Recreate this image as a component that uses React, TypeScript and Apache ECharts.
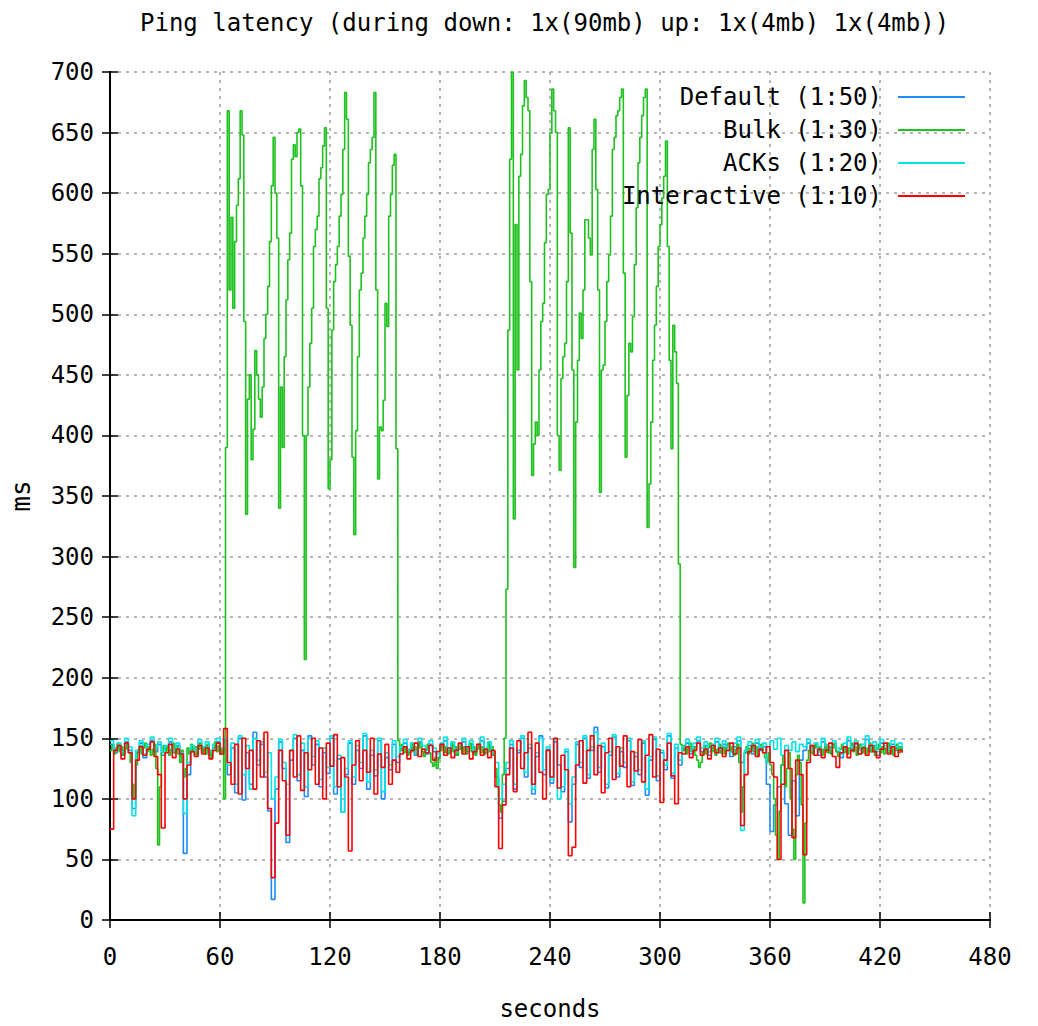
import React, { useEffect, useRef } from "react";
import * as echarts from "echarts";

// ---- Data (ms) ----
const TITLE = "Ping latency (during down: 1x(90mb) up: 1x(4mb) 1x(4mb))";
const seriesNames = ["Default (1:50)", "Bulk (1:30)", "ACKs (1:20)", "Interactive (1:10)"];
const seriesColors = ["#1e8cff", "#1ec21e", "#00e6e6", "#ff0000"];

// Default (1:50): every 2 s
const defaultA = [145,138,142,136,147,140,92,138,146,134,143,148,139,145,136,142,147,138,144,135,55,120,141,137,146,140,144,136,142,147,139]; // t 0..60
const defaultB = [148,120,142,105,150,99,138,112,155,128,145,118,90,17,108,147,125,64,132,150,115,140,102,152,128,145,110,138,121,150,104,133,89,120,146,112,140,125,152,108,136,119,148,100,134,124,145,130]; // t 62..156
const defaultC = [140,146,138,143,136,147,141,137,145,139,134,143,148,138,144,136,141,147,139,145,137,142,148,138,144,136,118,84,98]; // t 158..214
const defaultD = [125,145,108,138,150,118,142,104,135,152,120,141,113,147,128,106,139,81,112,145,126,150,117,140,159,122,143,109,136,151,118,139,126,148,111,135,120,146,103,132,149,115,138,124,152,117,142,128]; // t 216..310
const defaultE = [140,146,137,143,148,139,144,136,142,147,138,145,140,135,143,148,130,138,144,137,146,140,143,112,73,95,110,128,96,70,115,86,132,140,146,138,143,136,147,141,138,145,139,134,143,148,140,145,137,142,149,139,144,136,146,141,138,145,140,143,139]; // t 312..432

// ACKs (1:20): every 2 s
const acksA = [148,141,146,139,150,143,86,140,148,137,145,151,142,147,139,144,150,140,146,138,88,130,144,140,149,143,147,139,145,150,142];
const acksB = [150,128,146,112,152,120,144,108,150,132,147,122,138,100,118,149,130,112,140,153,120,146,110,150,135,148,116,142,126,152,110,136,89,125,148,118,144,130,154,114,140,124,150,106,138,128,148,135];
const acksC = [143,149,140,146,139,150,144,140,148,142,137,146,151,141,147,139,144,150,142,148,140,145,151,141,147,139,130,100,112];
const acksD = [130,148,112,140,152,122,145,108,138,150,124,143,116,149,100,110,141,96,118,147,130,152,120,143,155,126,146,112,139,153,121,142,130,150,114,138,124,148,108,135,151,119,140,128,154,121,145,132];
const acksE = [143,149,140,146,151,142,147,139,145,150,141,148,143,138,146,151,74,140,147,140,149,143,146,130,148,141,150,136,144,140,147,139,145,143,149,141,146,139,150,144,141,148,142,137,146,151,143,148,140,145,152,142,147,139,149,144,141,148,143,146,142];

// Interactive (1:10): every 2 s
const interA = [75,140,144,133,146,138,100,132,143,136,141,147,135,120,76,138,145,134,141,137,100,128,139,135,144,137,142,133,140,146,137];
const interB = [158,130,112,145,104,150,125,140,108,148,118,155,92,35,80,140,115,70,140,118,152,107,138,124,150,112,142,100,146,127,153,110,134,118,57,128,148,115,140,122,150,104,137,126,145,112,132,122];
const interC = [137,143,133,140,146,135,141,138,144,132,139,145,136,142,134,140,146,137,143,133,139,145,136,141,134,140,110,59,95];
const interD = [120,142,106,148,125,138,155,112,146,122,100,140,118,150,109,136,124,53,60,128,148,113,140,152,120,144,105,138,150,116,143,127,152,110,139,123,149,114,136,153,118,141,97,132,146,119,96,138];
const interE = [137,143,134,140,146,136,141,133,144,138,142,135,140,146,137,142,78,120,139,144,135,141,138,143,130,118,50,112,140,125,68,132,120,54,130,144,136,141,134,140,146,135,126,138,143,134,140,146,137,142,136,144,139,134,141,146,137,143,135,140,138];

// Bulk (1:30): every 1 s
const bulkA = [140,144,137,142,146,139,143,136,141,145,138,130,112,100,128,140,144,137,142,146,139,143,136,141,145,125,62,110,138,144,139,143,136,141,146,138,143,137,130,140,118,125,142,137,145,139,143,136,141,146,138,143,137,145,140,134,142,147,139,144,137,142]; // t 0..61
const bulkB = [100,390,668,520,580,505,560,590,612,668,648,494,335,430,450,380,405,470,450,430,415,440,480,500,523,560,606,646,600,563,340,440,390,465,512,545,567,628,640,630,650,653,606,400,215,400,440,476,505,556,570,581,612,621,639,654,505,356,380,487,527,541,556,581,599,636,683,661,548,491,382,318,404,465,520,534,563,581,599,625,636,646,683,520,364,407,404,429,509,490,581,599,623,632,389,148]; // t 62..157
const bulkC = [140,145,138,143,136,141,146,139,143,137,142,146,139,135,141,145,138,130,127,134,125,133,140,145,138,143,137,141,146,139,143,136,141,145,138,143,137,142,146,139,143,136,141,145,138,143,137,142,146,139,143,136,125,110,95,89,120,150]; // t 158..215
const bulkD = [273,487,628,700,331,574,454,614,632,672,693,679,668,527,367,393,411,400,454,494,509,559,599,603,650,686,668,650,400,371,447,465,476,527,654,567,454,291,411,462,501,480,520,578,578,563,549,636,661,603,520,353,454,458,494,527,549,581,636,646,664,668,679,686,534,382,433,476,469,498,541,588,625,646,664,679,686,324,360,411,462,491,523,556,574,596,614,643,556,462,389,491,469,443,294,145]; // t 216..311
const bulkE = [140,144,137,142,146,139,143,136,132,126,130,138,143,137,142,146,139,143,136,141,145,138,143,137,142,146,139,143,136,141,145,130,89,110,138,143,137,142,146,139,143,136,141,145,138,134,130,138,128,120,100,70,50,90,128,135,110,125,138,100,75,50,120,136,130,95,14,80,132,140,144,137,142,146,139,143,136,141,145,138,143,137,142,146,139,135,141,145,138,143,137,142,146,139,143,136,141,145,138,143,137,142,146,139,143,136,141,145,138,143,137,142,146,139,143,136,141,145,138,143,139]; // t 312..432

const X_MIN = 0, X_MAX = 480, X_INTERVAL = 60;
const Y_MIN = 0, Y_MAX = 700, Y_INTERVAL = 50;

const seg = (start: number, step: number, values: number[]) =>
  values.map((v, i) => [start + i * step, v]);

const defaultData = [...seg(0, 2, defaultA), ...seg(62, 2, defaultB), ...seg(158, 2, defaultC), ...seg(216, 2, defaultD), ...seg(312, 2, defaultE)];
const acksData = [...seg(0, 2, acksA), ...seg(62, 2, acksB), ...seg(158, 2, acksC), ...seg(216, 2, acksD), ...seg(312, 2, acksE)];
const interData = [...seg(0, 2, interA), ...seg(62, 2, interB), ...seg(158, 2, interC), ...seg(216, 2, interD), ...seg(312, 2, interE)];
const bulkData = [...seg(0, 1, bulkA), ...seg(62, 1, bulkB), ...seg(158, 1, bulkC), ...seg(216, 1, bulkD), ...seg(312, 1, bulkE)];

const FONT = "DejaVu Sans Mono";

export default function App() {
  const ref = useRef<HTMLDivElement>(null);
  useEffect(() => {
    if (!ref.current) return;
    const chart = echarts.init(ref.current, undefined, { renderer: "svg" });
    const axisLine = { show: true, lineStyle: { color: "#000", width: 2 } };
    const tick = { show: true, inside: true, length: 8, lineStyle: { color: "#000", width: 1.5 } };
    const split = { show: true, lineStyle: { color: "#a0a0a0", width: 1.5, type: [3, 5] as any } };
    const labelStyle = { color: "#000", fontFamily: FONT, fontSize: 24 };
    const datas = [defaultData, bulkData, acksData, interData];
    chart.setOption({
      animation: false,
      backgroundColor: "#fff",
      title: {
        text: TITLE,
        left: 140,
        top: 11,
        padding: 0,
        textStyle: { fontFamily: FONT, fontSize: 24, fontWeight: "normal", color: "#000" },
      },
      legend: {
        orient: "vertical",
        right: 73,
        top: 85,
        padding: 0,
        align: "right",
        icon: "rect",
        itemWidth: 67,
        itemHeight: 2,
        itemGap: 9,
        data: seriesNames,
        textStyle: { fontFamily: FONT, fontSize: 24, color: "#000", lineHeight: 24, padding: [0, 11, 0, 0] },
      },
      grid: { left: 108, right: 48, top: 72, bottom: 96, containLabel: false },
      xAxis: [
        {
          type: "value", min: X_MIN, max: X_MAX, interval: X_INTERVAL, position: "bottom",
          axisLine, axisTick: tick, splitLine: split,
          axisLabel: { ...labelStyle, margin: 25 },
          name: "seconds", nameLocation: "middle", nameGap: 77,
          nameTextStyle: { ...labelStyle },
        },
        {
          type: "value", min: X_MIN, max: X_MAX, interval: X_INTERVAL, position: "top",
          axisLine, axisTick: tick, splitLine: { show: false }, axisLabel: { show: false },
        },
      ],
      yAxis: [
        {
          type: "value", min: Y_MIN, max: Y_MAX, interval: Y_INTERVAL, position: "left",
          axisLine, axisTick: tick, splitLine: split,
          axisLabel: { ...labelStyle, margin: 16 },
          name: "ms", nameLocation: "middle", nameGap: 76, nameRotate: 90,
          nameTextStyle: { ...labelStyle, fontSize: 26 },
        },
        {
          type: "value", min: Y_MIN, max: Y_MAX, interval: Y_INTERVAL, position: "right",
          axisLine, axisTick: tick, splitLine: { show: false }, axisLabel: { show: false },
        },
      ],
      series: seriesNames.map((name, i) => ({
        name,
        type: "line",
        xAxisIndex: 0,
        yAxisIndex: 0,
        data: datas[i],
        step: "end",
        showSymbol: false,
        symbol: "none",
        clip: true,
        color: seriesColors[i],
        lineStyle: { color: seriesColors[i], width: 1.6 },
      })),
    });
    return () => chart.dispose();
  }, []);
  return (
    <div
      ref={ref}
      style={{ position: "absolute", left: 0, top: 0, width: 1038, height: 1026 }}
    />
  );
}
